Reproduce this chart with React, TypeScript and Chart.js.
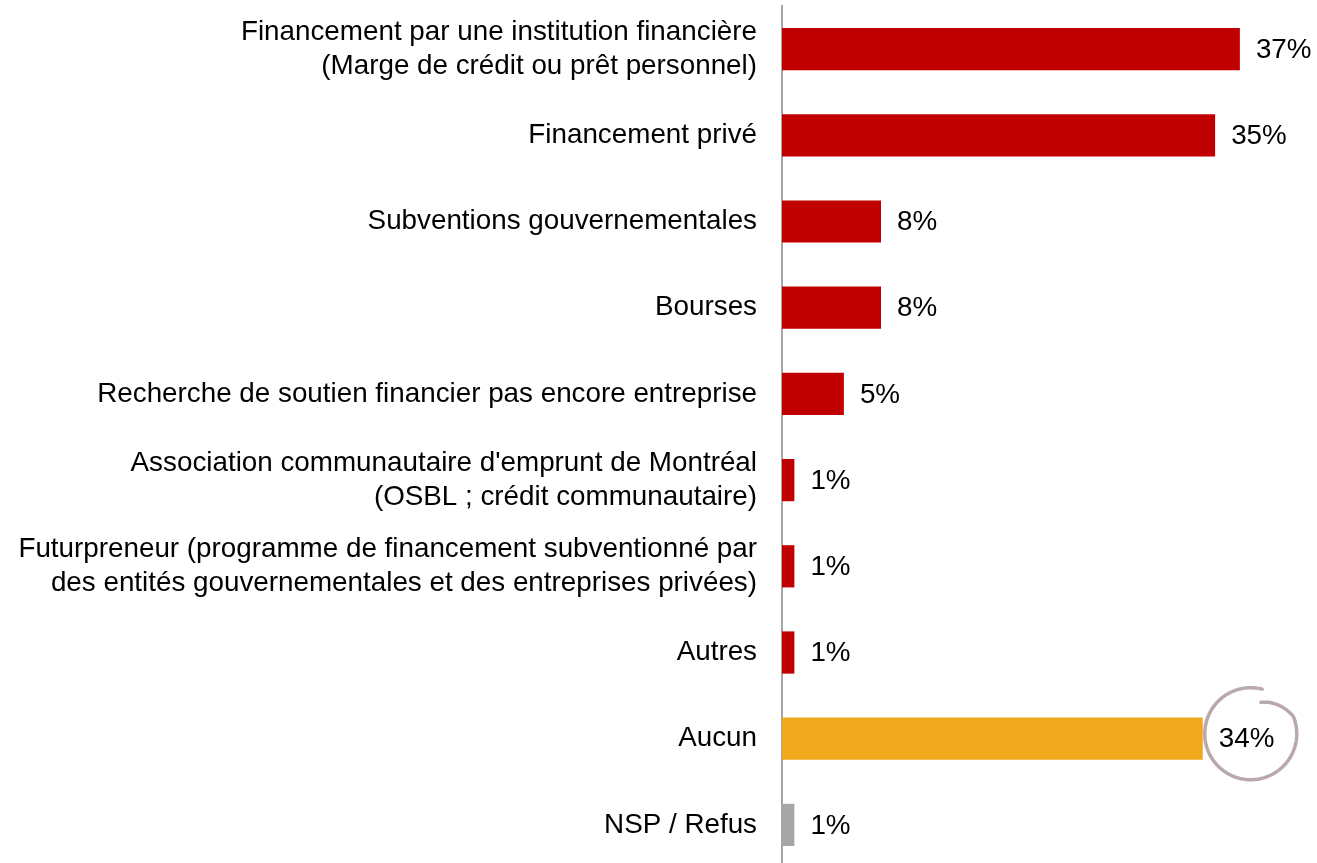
import React, { useEffect, useRef } from "react";
import { Chart, registerables } from "chart.js";

Chart.register(...registerables);

const categories: (string | string[])[] = [
  ["Financement par une institution financière", "(Marge de crédit ou prêt personnel)"],
  "Financement privé",
  "Subventions gouvernementales",
  "Bourses",
  "Recherche de soutien financier pas encore entreprise",
  ["Association communautaire d'emprunt de Montréal", "(OSBL ; crédit communautaire)"],
  ["Futurpreneur (programme de financement subventionné par", "des entités gouvernementales et des entreprises privées)"],
  "Autres",
  "Aucun",
  "NSP / Refus",
];

const values: number[] = [37, 35, 8, 8, 5, 1, 1, 1, 34, 1];

const barColors: string[] = [
  "#c00000", "#c00000", "#c00000", "#c00000", "#c00000",
  "#c00000", "#c00000", "#c00000", "#f0a91d", "#a6a6a6",
];

const highlightIndex = 8;

const FONT = "'Liberation Sans', Arial, Helvetica, sans-serif";

export default function App() {
  const ref = useRef<HTMLCanvasElement | null>(null);

  useEffect(() => {
    if (!ref.current) return;
    document.body.style.margin = "0";
    document.body.style.overflow = "hidden";

    const valueLabels = {
      id: "valueLabels",
      afterDatasetsDraw(chart: any) {
        const ctx = chart.ctx;
        const meta = chart.getDatasetMeta(0);
        ctx.save();
        ctx.font = `27.8px ${FONT}`;
        ctx.fillStyle = "#000";
        ctx.textAlign = "left";
        ctx.textBaseline = "middle";
        meta.data.forEach((bar: any, i: number) => {
          ctx.fillText(`${values[i]}%`, bar.x + 16, bar.y + 1);
        });
        // hand-drawn circle around the highlighted value
        const hb = meta.data[highlightIndex];
        if (hb) {
          const cx = hb.x + 48;
          const cy = hb.y - 5;
          ctx.strokeStyle = "#b9a9aa";
          ctx.lineWidth = 3.5;
          ctx.lineCap = "round";
          ctx.beginPath();
          const start = -Math.PI * 0.42;
          const end = start - Math.PI * 1.98;
          const steps = 160;
          for (let s = 0; s <= steps; s++) {
            const t = s / steps;
            const a = start + (end - start) * t;
            const r = 46 - (t > 0.86 ? ((t - 0.86) / 0.14) * 13 : 0);
            const x = cx + r * Math.cos(a);
            const y = cy + r * Math.sin(a);
            if (s === 0) ctx.moveTo(x, y);
            else ctx.lineTo(x, y);
          }
          ctx.stroke();
        }
        ctx.restore();
      },
    };

    const chart = new Chart(ref.current, {
      type: "bar",
      data: {
        labels: categories,
        datasets: [
          {
            data: values,
            backgroundColor: barColors,
            borderWidth: 0,
            categoryPercentage: 1,
            barPercentage: 0.49,
          },
        ],
      },
      options: {
        indexAxis: "y",
        animation: false,
        responsive: false,
        maintainAspectRatio: false,
        layout: { padding: { top: 6, bottom: 2, right: 40, left: 0 } },
        plugins: {
          legend: { display: false },
          tooltip: { enabled: false },
        },
        scales: {
          x: {
            display: false,
            min: 0,
            max: 40,
          },
          y: {
            grid: { display: false, drawTicks: false },
            border: { display: true, color: "#a6a6a6", width: 2 },
            ticks: {
              color: "#000",
              padding: 25,
              font: { family: FONT, size: 27.8, lineHeight: 1.23 },
            },
            afterFit(scale: any) {
              scale.width = 782;
              scale.paddingTop = 0;
              scale.paddingBottom = 0;
            },
          },
        },
      },
      plugins: [valueLabels],
    });
    return () => chart.destroy();
  }, []);

  return (
    <div style={{ position: "absolute", left: 0, top: 0, width: 1317, height: 870 }}>
      <canvas ref={ref} width={1317} height={870} style={{ display: "block" }} />
    </div>
  );
}
